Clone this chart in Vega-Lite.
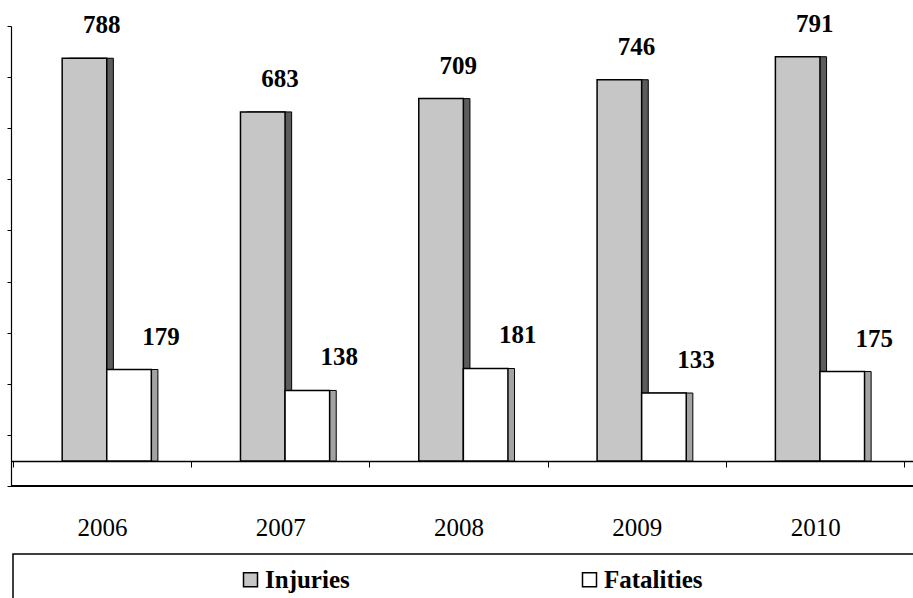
{
  "$schema": "https://vega.github.io/schema/vega-lite/v6.json",
  "width": 902,
  "height": 460,
  "autosize": {"type": "none"},
  "padding": {"left": 11, "top": 26, "right": 0, "bottom": 112},
  "background": "white",
  "config": {
    "view": {"stroke": null},
    "font": "Liberation Serif",
    "axisX": {
      "offset": -25,
      "domainColor": "black",
      "domainWidth": 1.5,
      "tickColor": "black",
      "tickWidth": 1,
      "tickSize": 6,
      "tickBand": "extent",
      "labelFont": "Liberation Serif",
      "labelFontSize": 25,
      "labelColor": "black",
      "labelBaseline": "alphabetic",
      "labelPadding": 68,
      "labelAngle": 0,
      "grid": false
    },
    "axisY": {
      "labels": false,
      "grid": false,
      "tickSize": 4,
      "tickColor": "black",
      "domainColor": "black",
      "domainWidth": 1.2
    }
  },
  "data": {
    "values": [
      {"year": "2006", "series": "Injuries", "value": 788},
      {"year": "2006", "series": "Fatalities", "value": 179},
      {"year": "2007", "series": "Injuries", "value": 683},
      {"year": "2007", "series": "Fatalities", "value": 138},
      {"year": "2008", "series": "Injuries", "value": 709},
      {"year": "2008", "series": "Fatalities", "value": 181},
      {"year": "2009", "series": "Injuries", "value": 746},
      {"year": "2009", "series": "Fatalities", "value": 133},
      {"year": "2010", "series": "Injuries", "value": 791},
      {"year": "2010", "series": "Fatalities", "value": 175}
    ]
  },
  "resolve": {"scale": {"xOffset": "independent"}},
  "layer": [
    {
      "mark": {"type": "rule", "color": "black", "strokeWidth": 1.5},
      "encoding": {"y": {"datum": 0, "type": "quantitative", "title": null}}
    },
    {
      "mark": {"type": "bar", "stroke": "black", "strokeWidth": 1, "yOffset": -25, "y2Offset": -25},
      "encoding": {
        "x": {"field": "year", "type": "nominal", "title": null, "scale": {"paddingInner": 0, "paddingOuter": 0.0294, "align": 0.17}},
        "xOffset": {"field": "series", "sort": ["Injuries", "Fatalities"], "scale": {"domain": ["Injuries", "Fatalities"], "paddingInner": 0, "paddingOuter": 1.12, "align": 0.628}},
        "y": {"field": "value", "type": "quantitative", "title": null, "scale": {"domain": [0, 900], "nice": false}},
        "fill": {"condition": {"test": "datum.series === 'Injuries'", "value": "#5c5c5c"}, "value": "#a3a3a3"}
      }
    },
    {
      "mark": {"type": "bar", "stroke": "black", "strokeWidth": 1.5, "yOffset": -25, "y2Offset": -25},
      "encoding": {
        "x": {"field": "year", "type": "nominal", "title": null, "scale": {"paddingInner": 0, "paddingOuter": 0.0294, "align": 0.17}},
        "xOffset": {"field": "series", "sort": ["Injuries", "Fatalities"], "scale": {"domain": ["Injuries", "Fatalities"], "paddingInner": 0, "paddingOuter": 1.12, "align": 0.554}},
        "y": {"field": "value", "type": "quantitative", "title": null, "scale": {"domain": [0, 900], "nice": false}},
        "color": {
          "field": "series",
          "type": "nominal",
          "scale": {"domain": ["Injuries", "Fatalities"], "range": ["#c6c6c6", "#ffffff"]},
          "legend": {
            "orient": "none",
            "legendX": 2,
            "legendY": 528,
            "direction": "horizontal",
            "columns": 2,
            "title": null,
            "symbolType": "square",
            "symbolSize": 196,
            "symbolStrokeColor": "black",
            "symbolStrokeWidth": 1.5,
            "symbolOpacity": 1,
            "symbolOffset": 212,
            "labelOffset": 2,
            "labelFont": "Liberation Serif",
            "labelFontSize": 25,
            "labelFontWeight": "bold",
            "labelColor": "black",
            "labelLimit": 2000,
            "columnPadding": 15,
            "padding": 13,
            "strokeColor": "black",
            "labelExpr": "datum.value === 'Fatalities' ? 'Fatalities\u00a0\u00a0\u00a0\u00a0\u00a0\u00a0\u00a0\u00a0\u00a0\u00a0\u00a0\u00a0\u00a0\u00a0\u00a0\u00a0\u00a0\u00a0\u00a0\u00a0\u00a0\u00a0\u00a0\u00a0\u00a0\u00a0\u00a0\u00a0\u00a0\u00a0\u00a0\u00a0\u200b' : datum.label",
            "encode": {
              "legend": {"update": {"strokeWidth": {"value": 1.5}}}
            }
          }
        }
      }
    },
    {
      "mark": {"type": "text", "font": "Liberation Serif", "fontSize": 25, "fontWeight": "bold", "color": "black", "baseline": "alphabetic", "align": "center", "dx": 23, "dy": -50},
      "encoding": {
        "x": {"field": "year", "type": "nominal", "title": null, "scale": {"paddingInner": 0, "paddingOuter": 0.0294, "align": 0.17}},
        "xOffset": {"field": "series", "sort": ["Injuries", "Fatalities"], "scale": {"domain": ["Injuries", "Fatalities"], "paddingInner": 0, "paddingOuter": 1.12, "align": 0.554}},
        "y": {"field": "value", "type": "quantitative", "title": null, "scale": {"domain": [0, 900], "nice": false}},
        "text": {"field": "value", "type": "quantitative"}
      }
    }
  ]
}
